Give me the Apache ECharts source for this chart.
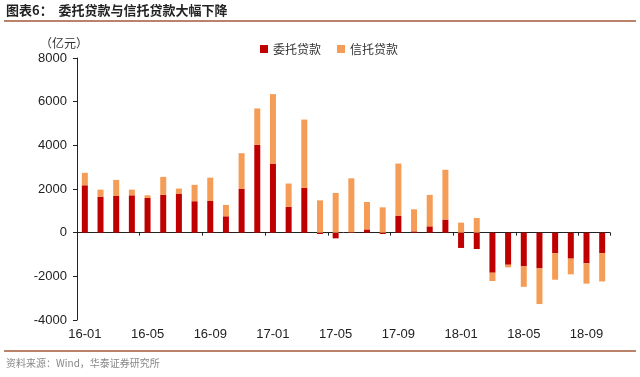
<!DOCTYPE html>
<html>
<head>
<meta charset="utf-8">
<script src="https://cdn.jsdelivr.net/npm/echarts@6/dist/echarts.min.js"></script>
<style>
  html, body { margin: 0; padding: 0; background: #fff; }
  #chart { width: 640px; height: 377px; }
</style>
</head>
<body>
<div id="chart"></div>
<script>
  // months 16-01 .. 18-10
  const months = [
    '16-01', '16-02', '16-03', '16-04', '16-05', '16-06', '16-07', '16-08', '16-09', '16-10', '16-11', '16-12',
    '17-01', '17-02', '17-03', '17-04', '17-05', '17-06', '17-07', '17-08', '17-09', '17-10', '17-11', '17-12',
    '18-01', '18-02', '18-03', '18-04', '18-05', '18-06', '18-07', '18-08', '18-09', '18-10'
  ]
  // 委托贷款 (亿元)
  const entrustedLoans = [
    2170, 1650, 1680, 1710, 1590, 1730, 1790, 1440, 1450, 750, 2000, 4020,
    3165, 1180, 2050, -60, -260, 20, 150, -60, 780, 60, 290, 600,
    -700, -750, -1835, -1470, -1545, -1635, -935, -1190, -1405, -935
  ]
  // 信托贷款 (亿元)
  const trustLoans = [
    570, 320, 735, 260, 120, 825, 230, 750, 1070, 520, 1640, 1670,
    3180, 1070, 3130, 1480, 1820, 2470, 1255, 1160, 2385, 1010, 1440, 2280,
    460, 670, -380, -120, -935, -1635, -1220, -720, -930, -1300
  ]
  const yTicks = { min: -4000, max: 8000, interval: 2000 }

  const chart = echarts.init(document.getElementById('chart'), null, { renderer: 'canvas' })
  const cjk = '"Noto Sans CJK SC", sans-serif'
  const latin = '"Liberation Sans", Arial, sans-serif'

  chart.setOption({
    animation: false,
    backgroundColor: '#fff',
    grid: { left: 77, right: 30, top: 58, bottom: 57 },
    legend: {
      top: 38,
      left: 255,
      itemWidth: 8,
      itemHeight: 8,
      itemGap: 16,
      icon: 'rect',
      textStyle: { fontFamily: cjk, fontSize: 12, color: '#333' },
      data: ['委托贷款', '信托贷款']
    },
    graphic: [
      {
        type: 'text', left: 6, top: 4,
        style: { text: '图表6：  委托贷款与信托贷款大幅下降', font: 'bold 13px ' + cjk, fill: '#222' }
      },
      {
        type: 'line', shape: { x1: 4, y1: 21, x2: 636, y2: 21 },
        style: { stroke: '#A5583A', lineWidth: 1.5 }
      },
      {
        type: 'text', left: 40, top: 37,
        style: { text: '（亿元）', font: '12px ' + cjk, fill: '#333' }
      },
      {
        type: 'line', shape: { x1: 4, y1: 351, x2: 636, y2: 351 },
        style: { stroke: '#A5583A', lineWidth: 1.5 }
      },
      {
        type: 'text', left: 6, top: 358,
        style: { text: '资料来源：Wind，华泰证券研究所', font: '10px ' + cjk, fill: '#888' }
      }
    ],
    xAxis: {
      type: 'category',
      data: months,
      boundaryGap: true,
      axisLine: { onZero: true, lineStyle: { color: '#222', width: 1 } },
      axisTick: { show: true, interval: 3, length: 3, lineStyle: { color: '#222' } },
      axisLabel: { interval: 3, color: '#222', fontFamily: latin, fontSize: 13, margin: 8 },
      splitLine: { show: false }
    },
    yAxis: {
      type: 'value',
      min: yTicks.min,
      max: yTicks.max,
      interval: yTicks.interval,
      axisLine: { show: true, lineStyle: { color: '#222' } },
      axisTick: { show: true, length: 4, lineStyle: { color: '#222' } },
      axisLabel: {
        color: '#222',
        fontFamily: latin,
        fontSize: 13,
        margin: 10,
        formatter: function (v) { return String(v) }
      },
      splitLine: { show: false }
    },
    series: [
      {
        name: '委托贷款',
        type: 'bar',
        stack: 'loans',
        barWidth: 6,
        itemStyle: { color: '#C00000' },
        data: entrustedLoans
      },
      {
        name: '信托贷款',
        type: 'bar',
        stack: 'loans',
        barWidth: 6,
        itemStyle: { color: '#F59D56' },
        data: trustLoans
      }
    ]
  })
</script>
</body>
</html>
